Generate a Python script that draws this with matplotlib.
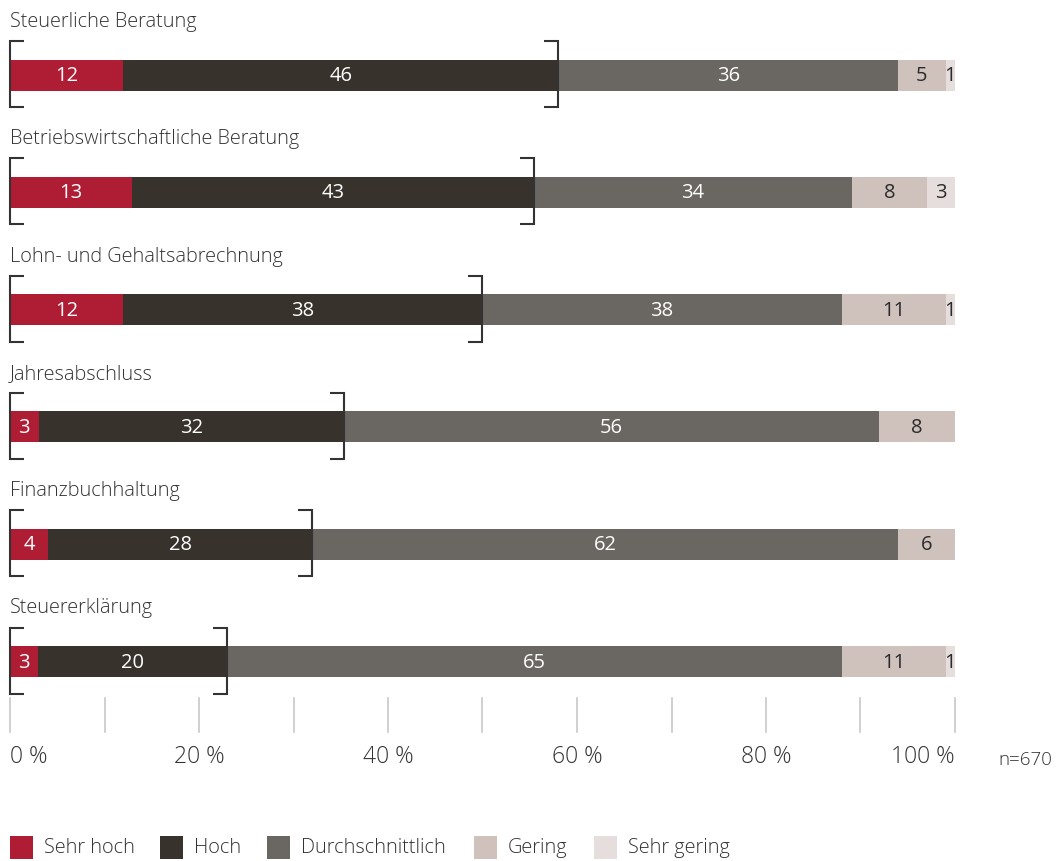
import matplotlib
matplotlib.use("Agg")
import matplotlib.pyplot as plt
from matplotlib.patches import Rectangle
import numpy as np

plt.rcParams['font.family'] = ['Open Sans', 'DejaVu Sans']

categories = [
    "Steuerliche Beratung",
    "Betriebswirtschaftliche Beratung",
    "Lohn- und Gehaltsabrechnung",
    "Jahresabschluss",
    "Finanzbuchhaltung",
    "Steuererklärung",
]
series_names = ["Sehr hoch", "Hoch", "Durchschnittlich", "Gering", "Sehr gering"]
sehr_hoch = [12, 13, 12, 3, 4, 3]
hoch = [46, 43, 38, 32, 28, 20]
durchschnittlich = [36, 34, 38, 56, 62, 65]
gering = [5, 8, 11, 8, 6, 11]
sehr_gering = [1, 3, 1, 0, 0, 1]
x_ticks = [0, 10, 20, 30, 40, 50, 60, 70, 80, 90, 100]
x_tick_labels = {0: "0 %", 20: "20 %", 40: "40 %", 60: "60 %", 80: "80 %", 100: "100 %"}
sample_note = "n=670"

colors = ["#AF1D35", "#38322C", "#6A6661", "#CFC2BD", "#E6DEDC"]
text_colors = ["white", "white", "white", "#2b2b2b", "#2b2b2b"]
label_color = "#333333"
weight = "light"

W, H = 1056, 861
fig = plt.figure(figsize=(W / 100, H / 100), dpi=100)
ax = fig.add_axes([0, 0, 1, 1])
ax.set_axis_off()

# map percentages onto the canvas: 0 % at x=10 px, 100 % at x=955 px
px_per_pct = 9.45
x0_px = 10
ax.set_xlim(-x0_px / px_per_pct, (W - x0_px) / px_per_pct)
ax.set_ylim(H, 0)

data = np.array([sehr_hoch, hoch, durchschnittlich, gering, sehr_gering], dtype=float)
shares = data / data.sum(axis=0) * 100

row_top = 75
row_step = 117.3
bar_h = 31
fs = 14.3

for i, cat in enumerate(categories):
    yc = row_top + i * row_step
    ax.text(0, yc - 53, cat, ha="left", va="center", fontsize=fs, color=label_color,
            fontweight=weight)
    left = 0.0
    for s in range(len(series_names)):
        w = shares[s, i]
        if data[s, i] > 0:
            ax.barh(yc, w, left=left, height=bar_h, color=colors[s], linewidth=0)
            ax.text(left + w / 2, yc + 1, f"{int(data[s, i])}", ha="center", va="center",
                    fontsize=14.5, color=text_colors[s])
        left += w
    # bracket around the two highest rating groups
    top_two = shares[0, i] + shares[1, i]
    y1, y2 = yc - 34, yc + 32
    arm = 1.5
    ax.plot([arm, 0, 0, arm], [y1, y1, y2, y2], color="#333333", lw=1.5,
            solid_joinstyle="miter", solid_capstyle="butt")
    ax.plot([top_two - arm, top_two, top_two, top_two - arm], [y1, y1, y2, y2],
            color="#333333", lw=1.5, solid_joinstyle="miter", solid_capstyle="butt")

# scale ticks
for t in x_ticks:
    ax.plot([t, t], [698, 732], color="#c8c8c8", lw=1.2)
for t, lab in x_tick_labels.items():
    ha = "left" if t == 0 else ("right" if t == 100 else "center")
    ax.text(t, 757, lab, ha=ha, va="center", fontsize=16.5, color=label_color,
            fontweight=weight)
ax.text(1052 / px_per_pct - 1.06, 760, sample_note, ha="right", va="center",
        fontsize=13.5, color=label_color, fontweight=weight)

# legend
legend_x = [10, 160, 267, 474, 594]
for s, name in enumerate(series_names):
    xs = (legend_x[s] - x0_px) / px_per_pct
    ax.add_patch(Rectangle((xs, 836), 23 / px_per_pct, 23, color=colors[s], lw=0))
    ax.text(xs + 34 / px_per_pct, 848, name, ha="left", va="center",
            fontsize=fs, color=label_color, fontweight=weight)

fig.savefig("out.png", dpi=100)
